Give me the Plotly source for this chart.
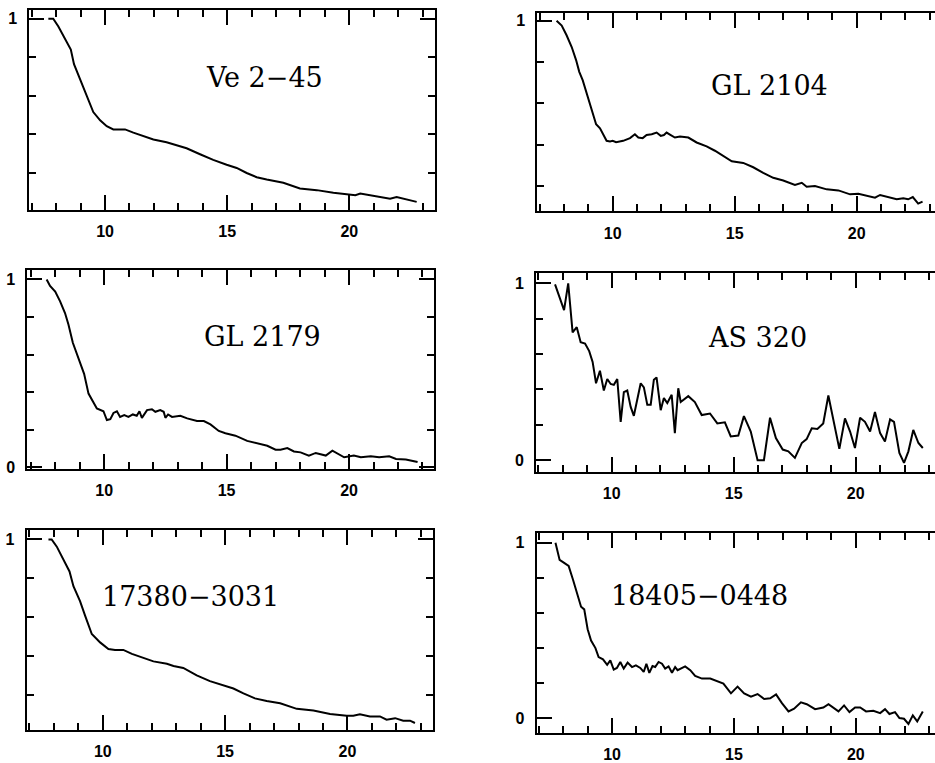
import plotly.graph_objects as go

# ---------------- data ----------------
names = ["Ve 2\u221245", "GL 2104", "GL 2179", "AS 320", "17380\u22123031", "18405\u22120448"]

ve245_x = [7.68, 7.88, 8.09, 8.36, 8.60, 8.73, 8.98, 9.25, 9.52, 9.80, 10.07, 10.34, 10.82, 11.16,
           11.57, 11.98, 12.52, 12.93, 13.34, 13.89, 14.43, 14.98, 15.39, 15.80, 16.21, 16.62,
           17.30, 17.98, 18.67, 19.35, 20.03, 20.25, 20.45, 20.70, 21.12, 21.67, 21.94, 22.35, 22.76]
ve245_y = [1.00, 1.00, 0.96, 0.90, 0.84, 0.764, 0.687, 0.60, 0.516, 0.473, 0.443, 0.426, 0.426, 0.409,
           0.391, 0.374, 0.359, 0.345, 0.328, 0.297, 0.268, 0.243, 0.226, 0.200, 0.178, 0.166,
           0.149, 0.120, 0.111, 0.097, 0.089, 0.085, 0.093, 0.088, 0.080, 0.067, 0.075, 0.063, 0.050]

gl2104_x = [7.70, 7.91, 8.11, 8.32, 8.50, 8.63, 8.77, 8.91, 9.04, 9.18, 9.32, 9.48, 9.61, 9.75, 9.89,
            10.00, 10.14, 10.43, 10.71, 10.91, 11.05, 11.23, 11.39, 11.60, 11.80, 11.97, 12.10, 12.21,
            12.38, 12.55, 12.76, 13.10, 13.44, 13.85, 14.19, 14.53, 14.88, 15.35, 15.76, 16.17, 16.58,
            16.99, 17.47, 17.75, 17.95, 18.29, 18.77, 19.25, 19.73, 20.07, 20.41, 20.75, 20.96, 21.30,
            21.64, 21.91, 22.11, 22.30, 22.52, 22.70]
gl2104_y = [1.00, 0.977, 0.93, 0.873, 0.81, 0.753, 0.713, 0.657, 0.608, 0.544, 0.499, 0.48, 0.449, 0.419,
            0.416, 0.419, 0.412, 0.419, 0.432, 0.451, 0.435, 0.432, 0.447, 0.451, 0.459, 0.443, 0.447,
            0.459, 0.447, 0.435, 0.44, 0.435, 0.411, 0.392, 0.371, 0.347, 0.32, 0.312, 0.291, 0.264,
            0.24, 0.227, 0.205, 0.216, 0.197, 0.20, 0.184, 0.179, 0.16, 0.163, 0.155, 0.144, 0.157,
            0.147, 0.136, 0.141, 0.136, 0.147, 0.115, 0.125]

gl2179_x = [7.65, 7.79, 8.00, 8.20, 8.40, 8.54, 8.72, 8.95, 9.18, 9.36, 9.56, 9.70, 9.97, 10.11, 10.25,
            10.38, 10.52, 10.65, 10.82, 10.99, 11.17, 11.33, 11.44, 11.54, 11.75, 11.95, 12.09, 12.29,
            12.43, 12.50, 12.61, 12.77, 13.11, 13.39, 13.79, 14.07, 14.34, 14.68, 14.95, 15.36, 15.84,
            16.38, 16.66, 17.00, 17.20, 17.48, 17.75, 18.02, 18.36, 18.64, 19.05, 19.32, 19.53, 19.80,
            20.20, 20.48, 20.89, 21.23, 21.64, 21.92, 22.32, 22.52, 22.80]
gl2179_y = [1.00, 0.965, 0.935, 0.883, 0.821, 0.76, 0.663, 0.584, 0.497, 0.392, 0.347, 0.313, 0.298,
            0.251, 0.256, 0.289, 0.298, 0.268, 0.277, 0.268, 0.281, 0.274, 0.298, 0.263, 0.304, 0.309,
            0.295, 0.304, 0.295, 0.263, 0.281, 0.268, 0.274, 0.26, 0.246, 0.246, 0.228, 0.193, 0.181,
            0.168, 0.14, 0.123, 0.114, 0.093, 0.093, 0.102, 0.084, 0.079, 0.062, 0.076, 0.062, 0.088,
            0.072, 0.053, 0.062, 0.053, 0.058, 0.053, 0.058, 0.044, 0.041, 0.035, 0.028]

as320_x = [7.68, 8.05, 8.22, 8.40, 8.57, 8.73, 8.91, 9.08, 9.22, 9.36, 9.52, 9.68, 9.82, 9.96, 10.09,
           10.23, 10.37, 10.50, 10.64, 10.78, 10.91, 11.19, 11.32, 11.46, 11.60, 11.73, 11.84, 12.01,
           12.14, 12.28, 12.46, 12.59, 12.73, 12.83, 13.14, 13.41, 13.69, 14.03, 14.33, 14.64, 14.88,
           15.19, 15.42, 15.70, 15.98, 16.24, 16.49, 16.73, 17.01, 17.24, 17.51, 17.79, 17.99, 18.20,
           18.43, 18.67, 18.88, 19.08, 19.33, 19.56, 19.77, 19.97, 20.18, 20.38, 20.59, 20.79, 21.00,
           21.20, 21.41, 21.57, 21.79, 21.98, 22.16, 22.36, 22.57, 22.75]
as320_y = [0.994, 0.849, 1.00, 0.723, 0.752, 0.667, 0.66, 0.617, 0.556, 0.435, 0.506, 0.394, 0.459,
           0.431, 0.426, 0.459, 0.217, 0.385, 0.394, 0.301, 0.251, 0.435, 0.412, 0.314, 0.314, 0.455,
           0.468, 0.283, 0.351, 0.323, 0.37, 0.153, 0.407, 0.329, 0.362, 0.329, 0.255, 0.264, 0.208,
           0.214, 0.134, 0.139, 0.249, 0.162, 0.0, 0.0, 0.24, 0.125, 0.06, 0.05, 0.013, 0.097, 0.119,
           0.18, 0.177, 0.208, 0.366, 0.236, 0.064, 0.236, 0.162, 0.069, 0.24, 0.217, 0.162, 0.273,
           0.153, 0.106, 0.231, 0.217, 0.041, -0.015, 0.05, 0.171, 0.097, 0.069]

s17380_x = [7.78, 7.91, 8.12, 8.39, 8.64, 8.80, 9.07, 9.28, 9.55, 9.89, 10.23, 10.50, 10.84, 11.19,
            11.59, 12.07, 12.62, 12.89, 13.29, 13.84, 14.38, 14.79, 15.34, 15.75, 16.22, 16.70, 17.25,
            17.93, 18.61, 19.29, 19.97, 20.24, 20.51, 20.92, 21.33, 21.60, 21.95, 22.28, 22.56, 22.76]
s17380_y = [1.00, 1.00, 0.963, 0.894, 0.835, 0.759, 0.682, 0.606, 0.512, 0.469, 0.435, 0.43, 0.43, 0.41,
            0.393, 0.371, 0.359, 0.347, 0.337, 0.299, 0.269, 0.252, 0.231, 0.206, 0.18, 0.167, 0.155,
            0.126, 0.117, 0.10, 0.09, 0.09, 0.098, 0.087, 0.087, 0.07, 0.078, 0.065, 0.065, 0.053]

s18405_x = [7.68, 7.85, 8.02, 8.22, 8.40, 8.59, 8.73, 8.86, 9.00, 9.14, 9.32, 9.45, 9.63, 9.80, 9.93,
            10.07, 10.20, 10.34, 10.48, 10.64, 10.82, 10.98, 11.16, 11.30, 11.41, 11.53, 11.66, 11.77,
            11.91, 12.05, 12.18, 12.32, 12.46, 12.59, 12.69, 13.00, 13.21, 13.41, 13.69, 14.03, 14.30,
            14.57, 14.88, 15.15, 15.42, 15.70, 15.97, 16.24, 16.49, 16.73, 16.97, 17.24, 17.47, 17.75,
            17.99, 18.33, 18.67, 18.88, 19.29, 19.52, 19.74, 19.97, 20.18, 20.42, 20.72, 21.00, 21.20,
            21.38, 21.61, 21.79, 21.98, 22.16, 22.34, 22.52, 22.75]
s18405_y = [1.00, 0.902, 0.887, 0.868, 0.789, 0.705, 0.635, 0.62, 0.507, 0.442, 0.399, 0.348, 0.335,
            0.304, 0.329, 0.276, 0.286, 0.32, 0.282, 0.316, 0.291, 0.301, 0.286, 0.263, 0.31, 0.258,
            0.297, 0.291, 0.32, 0.31, 0.282, 0.295, 0.258, 0.291, 0.273, 0.295, 0.273, 0.241, 0.225,
            0.225, 0.211, 0.197, 0.141, 0.179, 0.141, 0.122, 0.137, 0.109, 0.113, 0.135, 0.085, 0.038,
            0.053, 0.09, 0.079, 0.051, 0.06, 0.079, 0.038, 0.072, 0.034, 0.06, 0.06, 0.038, 0.042,
            0.028, 0.051, 0.023, 0.034, 0.0, -0.004, -0.034, 0.015, -0.019, 0.038]

xs = [ve245_x, gl2104_x, gl2179_x, as320_x, s17380_x, s18405_x]
ys = [ve245_y, gl2104_y, gl2179_y, as320_y, s17380_y, s18405_y]

# ---------------- layout geometry ----------------
W, H = 935, 763
# panel boxes in pixels: (left, right, top, bottom)
boxes = [(29.3, 435, 10, 212.3), (537.3, 935, 12.7, 214),
         (27.3, 434, 273.3, 474.3), (536, 935, 276, 477.3),
         (26.7, 433.3, 536.7, 738.3), (536.7, 935, 539.3, 741.7)]
xranges = [(6.90, 23.51), (6.91, 23.21), (6.86, 23.47), (6.90, 23.25), (6.89, 23.51), (6.91, 23.25)]
yranges = [(0.009, 1.046), (0.077, 1.04), (-0.008, 1.05), (-0.065, 1.06), (0.019, 1.047), (-0.085, 1.056)]
label_pos = [(264, 78), (769.5, 87), (262, 341), (757, 342), (190.5, 604), (699.5, 603)]

fig = go.Figure()
tickfont = dict(family="Liberation Sans", size=16, color="black", weight="bold")

for i in range(6):
    n = "" if i == 0 else str(i + 1)
    fig.add_trace(go.Scatter(x=xs[i], y=ys[i], mode="lines",
                             line=dict(color="black", width=2),
                             xaxis="x" + n, yaxis="y" + n, showlegend=False, hoverinfo="skip"))
    l, r, t, b = boxes[i]
    right_col = (i % 2 == 1)
    xa = dict(domain=[l / W, r / W], range=list(xranges[i]), anchor="y" + n,
              showline=True, linecolor="black", linewidth=2, mirror="ticks",
              ticks="inside", tickmode="linear", tick0=0, dtick=5, ticklen=15, tickwidth=1.5,
              tickcolor="black", minor=dict(dtick=1, tick0=0, ticklen=7, tickwidth=1.5,
                                            tickcolor="black", ticks="inside", showgrid=False),
              showgrid=False, zeroline=False, tickfont=tickfont, ticklabelstandoff=6)
    ya = dict(domain=[1 - b / H, 1 - t / H], range=list(yranges[i]), anchor="x" + n,
              showline=True, linecolor="black", linewidth=2,
              mirror=False if right_col else "ticks",
              ticks="inside", tickmode="linear", tick0=0, dtick=1, ticklen=15, tickwidth=1.5,
              tickcolor="black", minor=dict(dtick=0.2, tick0=0, ticklen=7, tickwidth=1.5,
                                            tickcolor="black", ticks="inside", showgrid=False),
              showgrid=False, zeroline=False, tickfont=tickfont, ticklabelstandoff=7)
    fig.update_layout(**{"xaxis" + n: xa, "yaxis" + n: ya})
    px, py = label_pos[i]
    fig.add_annotation(x=px / W, y=1 - py / H, xref="paper", yref="paper", text=names[i],
                       showarrow=False, xanchor="center", yanchor="middle",
                       font=dict(family="DejaVu Serif", size=27, color="black"))

fig.update_layout(width=W, height=H, margin=dict(l=0, r=0, t=0, b=0),
                  paper_bgcolor="white", plot_bgcolor="white")
fig.write_html("out.html")
